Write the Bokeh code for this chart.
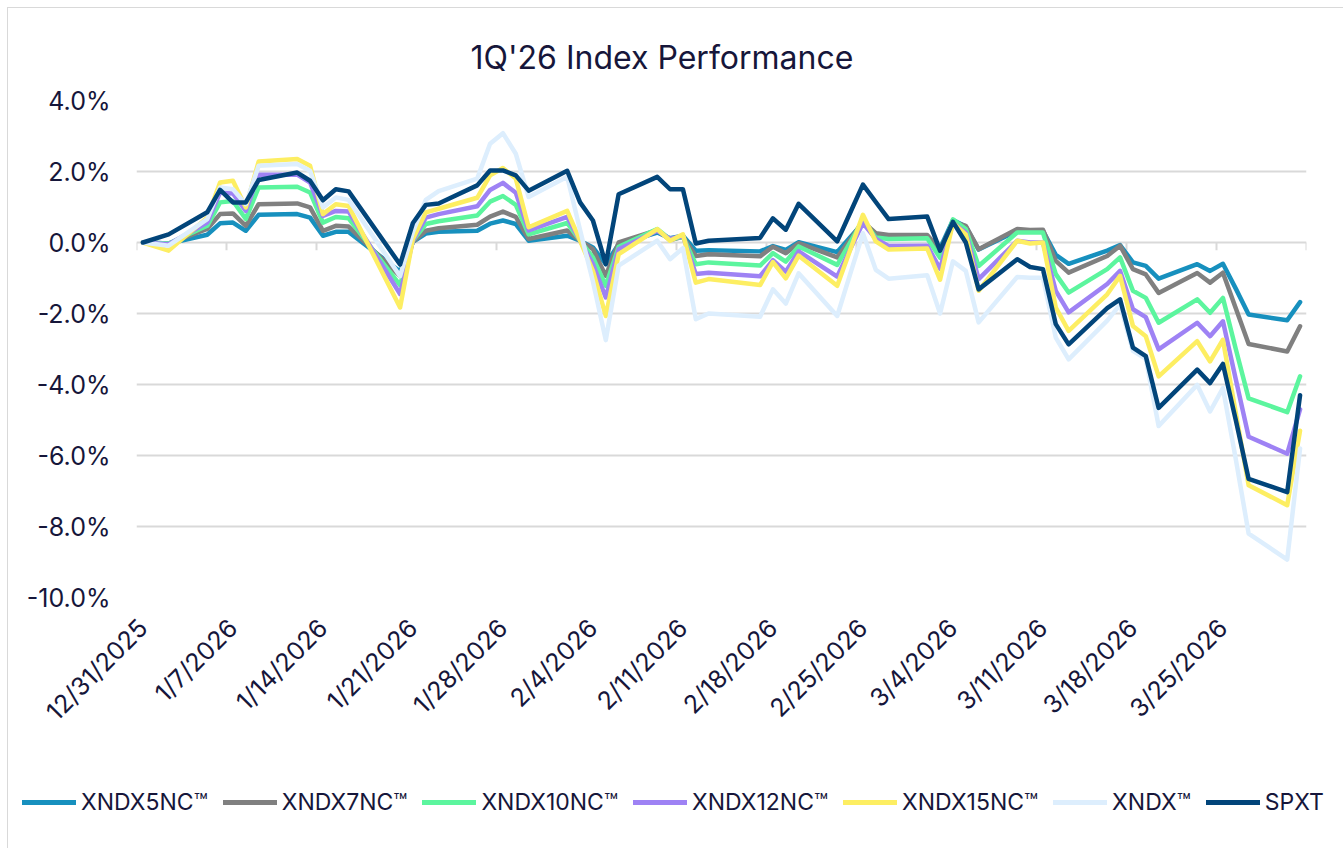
import math
import pandas as pd
from bokeh.plotting import figure
from bokeh.layouts import column
from bokeh.models import (FixedTicker, PrintfTickFormatter, Legend, LegendItem, Range1d)
from bokeh.embed import file_html
from bokeh.resources import INLINE

# ---------------- data ----------------
dates = [
    "2025-12-31", "2026-01-02", "2026-01-05", "2026-01-06", "2026-01-07", "2026-01-08", "2026-01-09",
    "2026-01-12", "2026-01-13", "2026-01-14", "2026-01-15", "2026-01-16",
    "2026-01-20", "2026-01-21", "2026-01-22", "2026-01-23",
    "2026-01-26", "2026-01-27", "2026-01-28", "2026-01-29", "2026-01-30",
    "2026-02-02", "2026-02-03", "2026-02-04", "2026-02-05", "2026-02-06",
    "2026-02-09", "2026-02-10", "2026-02-11", "2026-02-12", "2026-02-13",
    "2026-02-17", "2026-02-18", "2026-02-19", "2026-02-20",
    "2026-02-23", "2026-02-24", "2026-02-25", "2026-02-26", "2026-02-27",
    "2026-03-02", "2026-03-03", "2026-03-04", "2026-03-05", "2026-03-06",
    "2026-03-09", "2026-03-10", "2026-03-11", "2026-03-12", "2026-03-13",
    "2026-03-16", "2026-03-17", "2026-03-18", "2026-03-19", "2026-03-20",
    "2026-03-23", "2026-03-24", "2026-03-25", "2026-03-26", "2026-03-27",
    "2026-03-30", "2026-03-31",
]

xndx5nc = [0, -0.03, 0.22, 0.54, 0.56, 0.33, 0.78, 0.80, 0.70, 0.19, 0.30, 0.30,
           -0.82, 0.02, 0.25, 0.30, 0.33, 0.53, 0.62, 0.52, 0.05,
           0.19, 0.05, -0.14, -0.61, -0.05,
           0.28, 0.12, 0.19, -0.23, -0.22,
           -0.25, -0.10, -0.21, 0.01,
           -0.27, 0.14, 0.55, 0.17, 0.14,
           0.14, -0.16, 0.63, 0.45, -0.20,
           0.33, 0.33, 0.33, -0.35, -0.60,
           -0.23, -0.07, -0.56, -0.66, -1.02,
           -0.61, -0.80, -0.60, -1.30, -2.03,
           -2.19, -1.68]

xndx7nc = [0, -0.03, 0.38, 0.80, 0.82, 0.47, 1.08, 1.10, 0.99, 0.33, 0.47, 0.45,
           -0.95, 0.02, 0.33, 0.40, 0.50, 0.73, 0.87, 0.72, 0.10,
           0.34, 0.05, -0.19, -0.94, 0.00,
           0.35, 0.07, 0.16, -0.38, -0.33,
           -0.39, -0.12, -0.30, -0.02,
           -0.42, 0.08, 0.59, 0.26, 0.21,
           0.21, -0.22, 0.58, 0.47, -0.19,
           0.38, 0.35, 0.36, -0.52, -0.85,
           -0.38, -0.09, -0.75, -0.90, -1.42,
           -0.86, -1.13, -0.85, -1.85, -2.86,
           -3.07, -2.36]

xndx10nc = [0, -0.03, 0.47, 1.13, 1.17, 0.66, 1.55, 1.57, 1.41, 0.56, 0.72, 0.68,
            -1.20, 0.05, 0.52, 0.60, 0.76, 1.15, 1.31, 1.06, 0.23,
            0.55, 0.05, -0.42, -1.22, -0.12,
            0.38, 0.09, 0.16, -0.61, -0.56,
            -0.65, -0.30, -0.54, -0.11,
            -0.63, 0.00, 0.64, 0.14, 0.10,
            0.12, -0.43, 0.65, 0.38, -0.66,
            0.28, 0.28, 0.28, -0.89, -1.41,
            -0.75, -0.42, -1.36, -1.56, -2.26,
            -1.60, -1.98, -1.56, -3.00, -4.39,
            -4.78, -3.77]

xndx12nc = [0, -0.05, 0.56, 1.41, 1.38, 0.89, 1.91, 1.91, 1.69, 0.75, 0.89, 0.87,
            -1.45, 0.05, 0.70, 0.80, 1.02, 1.48, 1.68, 1.40, 0.34,
            0.72, 0.05, -0.61, -1.55, -0.19,
            0.33, 0.10, 0.19, -0.89, -0.85,
            -0.95, -0.50, -0.82, -0.25,
            -0.96, -0.20, 0.55, 0.10, -0.10,
            -0.09, -0.74, 0.55, 0.28, -1.03,
            0.05, 0.00, 0.00, -1.36, -1.97,
            -1.17, -0.80, -1.88, -2.10, -3.01,
            -2.26, -2.64, -2.22, -3.85, -5.47,
            -5.95, -4.70]

xndx15nc = [0, -0.23, 0.70, 1.69, 1.74, 0.99, 2.28, 2.35, 2.16, 0.80, 1.08, 1.03,
            -1.83, 0.10, 0.85, 0.95, 1.26, 1.89, 2.10, 1.80, 0.43,
            0.89, 0.05, -0.80, -2.07, -0.33,
            0.38, 0.05, 0.23, -1.13, -1.03,
            -1.20, -0.55, -1.01, -0.37,
            -1.22, -0.22, 0.78, 0.03, -0.20,
            -0.17, -1.05, 0.55, 0.23, -1.36,
            0.05, -0.03, 0.00, -1.83, -2.49,
            -1.46, -0.94, -2.35, -2.64, -3.77,
            -2.78, -3.35, -2.74, -4.80, -6.84,
            -7.40, -5.30]

xndx = [0, -0.09, 0.66, 1.55, 1.50, 1.08, 2.16, 2.21, 2.02, 0.99, 1.27, 1.20,
        -0.95, 0.30, 1.20, 1.45, 1.80, 2.78, 3.08, 2.50, 1.28,
        1.85, 0.35, -1.10, -2.75, -0.65,
        0.05, -0.47, -0.16, -2.16, -2.00,
        -2.09, -1.32, -1.72, -0.87,
        -2.07, -0.90, 0.26, -0.77, -1.02,
        -0.92, -2.00, -0.53, -0.80, -2.25,
        -0.97, -0.99, -0.99, -2.68, -3.29,
        -2.20, -1.75, -3.05, -3.28, -5.17,
        -4.01, -4.76, -4.10, -6.10, -8.20,
        -8.93, -5.80]

spxt = [0, 0.23, 0.85, 1.48, 1.13, 1.13, 1.76, 1.97, 1.74, 1.19, 1.50, 1.44,
        -0.62, 0.55, 1.06, 1.10, 1.61, 2.03, 2.03, 1.89, 1.46,
        2.02, 1.13, 0.62, -0.61, 1.36,
        1.85, 1.50, 1.50, -0.03, 0.05,
        0.13, 0.68, 0.36, 1.09,
        0.03, 0.83, 1.63, 1.14, 0.66,
        0.73, -0.23, 0.58, 0.00, -1.32,
        -0.47, -0.69, -0.75, -2.30, -2.87,
        -1.85, -1.60, -2.96, -3.20, -4.66,
        -3.58, -3.96, -3.42, -5.00, -6.66,
        -7.03, -4.30]

series_names = ["XNDX5NC\u2122", "XNDX7NC\u2122", "XNDX10NC\u2122", "XNDX12NC\u2122",
                "XNDX15NC\u2122", "XNDX\u2122", "SPXT"]
series_values = [xndx5nc, xndx7nc, xndx10nc, xndx12nc, xndx15nc, xndx, spxt]
series_colors = ["#1790BE", "#808080", "#5CF59E", "#9E82F4", "#FDEE62", "#DDEEFD", "#02457A"]

x_tick_labels = ["12/31/2025", "1/7/2026", "1/14/2026", "1/21/2026", "1/28/2026", "2/4/2026",
                 "2/11/2026", "2/18/2026", "2/25/2026", "3/4/2026", "3/11/2026", "3/18/2026",
                 "3/25/2026"]
y_ticks = [-10, -8, -6, -4, -2, 0, 2, 4]

# ---------------- geometry ----------------
start = pd.Timestamp(dates[0])
end_day = (pd.Timestamp("2026-03-31") - start).days + 1
xs = [(pd.Timestamp(d) - start).days + 0.5 for d in dates]
x_tick_pos = [(pd.to_datetime(l, format="%m/%d/%Y") - start).days for l in x_tick_labels]
x_label_pos = [t + 0.5 for t in x_tick_pos]   # labels sit at the centre of the day

TEXT = "#16163A"
FONT = "Inter"
W = 1335

p = figure(width=W, height=780, x_range=Range1d(0, end_day), y_range=Range1d(-10, 4),
           output_backend="svg", toolbar_location=None,
           title="1Q'26 Index Performance",
           min_border_left=128, min_border_right=37, min_border_top=92, min_border_bottom=191)
p.frame_align = False
p.outline_line_color = None
p.background_fill_color = "white"
p.border_fill_color = "white"

p.title.align = "left"
p.title.offset = 334
p.title.standoff = 47
p.title.text_font = FONT
p.title.text_font_size = "32px"
p.title.text_font_style = "normal"
p.title.text_color = TEXT

p.xgrid.visible = False
p.ygrid.ticker = FixedTicker(ticks=y_ticks)
p.ygrid.grid_line_color = "#d9d9d9"
p.ygrid.grid_line_width = 2

p.yaxis.ticker = FixedTicker(ticks=y_ticks)
p.yaxis.formatter = PrintfTickFormatter(format="%.1f%%")
p.yaxis.axis_line_color = None
p.yaxis.major_tick_line_color = None
p.yaxis.minor_tick_line_color = None
p.yaxis.major_label_text_font = FONT
p.yaxis.major_label_text_font_size = "25px"
p.yaxis.major_label_text_color = TEXT
p.yaxis.major_label_standoff = 20

p.xaxis.ticker = FixedTicker(ticks=x_label_pos)
p.xaxis.major_label_overrides = {pos: lab for pos, lab in zip(x_label_pos, x_tick_labels)}
p.xaxis.major_label_orientation = math.pi / 4
p.xaxis.axis_line_color = None
p.xaxis.major_tick_line_color = None
p.xaxis.minor_tick_line_color = None
p.xaxis.major_label_text_font = FONT
p.xaxis.major_label_text_font_size = "25px"
p.xaxis.major_label_text_color = TEXT
p.xaxis.major_label_standoff = 20

# small tick marks hanging under the 0% line
mark_pos = list(range(0, end_day + 1, 7))
p.segment(x0=mark_pos, y0=[0] * len(mark_pos), x1=mark_pos, y1=[-0.22] * len(mark_pos),
          line_color="#d9d9d9", line_width=2)

for name, vals, col in zip(series_names, series_values, series_colors):
    p.line(xs, vals, line_color=col, line_width=4.5, line_join="round", line_cap="round")

# ---------------- legend strip ----------------
lg = figure(width=W, height=60, x_range=Range1d(0, 1), y_range=Range1d(0, 1),
            output_backend="svg", toolbar_location=None,
            min_border_left=0, min_border_right=0, min_border_top=0, min_border_bottom=0)
lg.frame_align = False
lg.axis.visible = False
lg.grid.visible = False
lg.outline_line_color = None
lg.background_fill_color = "white"
lg.border_fill_color = "white"

items = []
for name, col in zip(series_names, series_colors):
    r = lg.line(x=[float("nan")], y=[float("nan")], line_color=col, line_width=5,
                line_cap="round")
    items.append(LegendItem(label=name, renderers=[r]))

legend = Legend(items=items, orientation="horizontal", location=(14, 32), margin=0,
                glyph_width=54, glyph_height=20, label_standoff=5, spacing=15, padding=0,
                border_line_alpha=0, background_fill_alpha=0,
                label_text_font=FONT, label_text_font_size="23px", label_text_color=TEXT)
lg.add_layout(legend)

layout = column(p, lg, spacing=0,
                styles={"border-left": "1px solid #d9d9d9", "border-top": "1px solid #d9d9d9",
                        "margin-left": "7px", "margin-top": "7px"})

open("out.html", "w").write(file_html(layout, INLINE))
